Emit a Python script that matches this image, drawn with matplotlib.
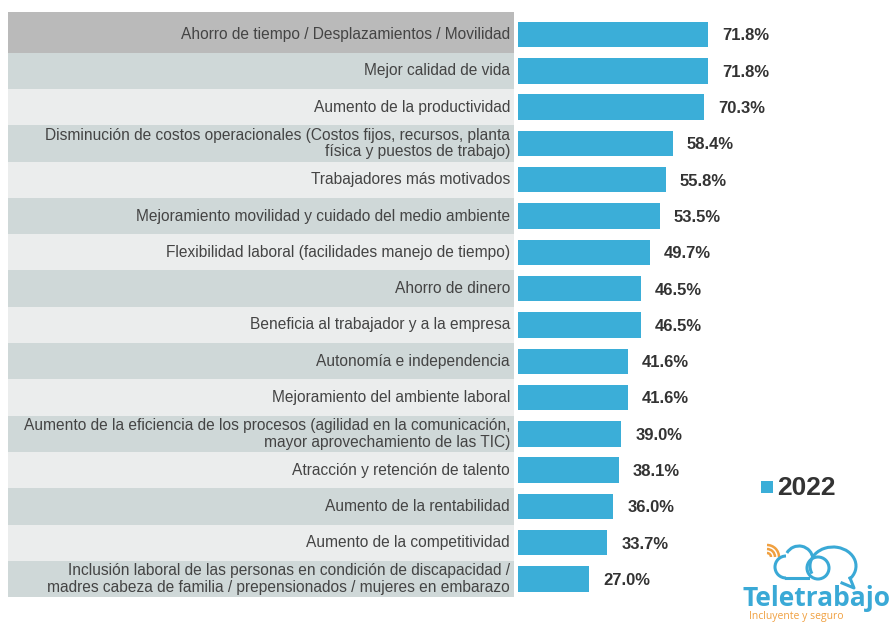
import matplotlib.pyplot as plt
from matplotlib.patches import Rectangle, Circle, Arc
import numpy as np

plt.rcParams['font.family'] = ['Liberation Sans', 'DejaVu Sans']

categories = [
    "Ahorro de tiempo / Desplazamientos / Movilidad",
    "Mejor calidad de vida",
    "Aumento de la productividad",
    "Disminución de costos operacionales (Costos fijos, recursos, planta\nfísica y puestos de trabajo)",
    "Trabajadores más motivados",
    "Mejoramiento movilidad y cuidado del medio ambiente",
    "Flexibilidad laboral (facilidades manejo de tiempo)",
    "Ahorro de dinero",
    "Beneficia al trabajador y a la empresa",
    "Autonomía e independencia",
    "Mejoramiento del ambiente laboral",
    "Aumento de la eficiencia de los procesos (agilidad en la comunicación,\nmayor aprovechamiento de las TIC)",
    "Atracción y retención de talento",
    "Aumento de la rentabilidad",
    "Aumento de la competitividad",
    "Inclusión laboral de las personas en condición de discapacidad /\nmadres cabeza de familia / prepensionados / mujeres en embarazo",
]
values_2022 = [71.8, 71.8, 70.3, 58.4, 55.8, 53.5, 49.7, 46.5, 46.5, 41.6, 41.6, 39.0, 38.1, 36.0, 33.7, 27.0]
series_name = "2022"

bar_color = '#3BAED8'
row_colors = ['#cfd8d8', '#ebeded']
text_color = '#444444'

W, H = 892, 622
fig = plt.figure(figsize=(W / 100, H / 100), dpi=100)

# bar axes: x=0 sits at pixel 518, ~2.646 px per percent
px_per_pct = 2.646
ax_left = 518
ax_right = W
ax_top, ax_bottom = 16.35, 597.2
ax = fig.add_axes([ax_left / W, (H - ax_bottom) / H, (ax_right - ax_left) / W, (ax_bottom - ax_top) / H])
ax.set_xlim(0, (ax_right - ax_left) / px_per_pct)
n = len(categories)
ax.set_ylim(n - 0.5, -0.5)
ax.axis('off')

y = np.arange(n)
ax.barh(y, values_2022, height=0.70, color=bar_color, zorder=3)

# label table with alternating row shading
trans = ax.get_yaxis_transform()
tbl_x0 = (8 - ax_left) / (ax_right - ax_left)
tbl_x1 = (514 - ax_left) / (ax_right - ax_left)
lab_x = (510 - ax_left) / (ax_right - ax_left)
for i, label in enumerate(categories):
    if i == 0:
        c = '#bababa'
    else:
        c = row_colors[(i - 1) % 2]
    y0 = i - 0.5 - (0.12 if i == 0 else 0)
    ax.add_patch(Rectangle((tbl_x0, y0), tbl_x1 - tbl_x0, i + 0.5 - y0, transform=trans,
                           facecolor=c, edgecolor='none', clip_on=False, zorder=1))
    ax.text(lab_x, i, label, transform=trans, ha='right', va='center',
            fontsize=11.2, color=text_color, linespacing=1.12, zorder=2)

for yi, v in zip(y, values_2022):
    ax.text(v + 5.3, yi + 0.04, f"{v:.1f}%", ha='left', va='center',
            fontsize=12, fontweight='bold', color='#333333')

# legend
fig.patches.append(Rectangle((761 / W, 1 - 493 / H), 12 / W, 12 / H, transform=fig.transFigure,
                             facecolor=bar_color, edgecolor='none'))
fig.text(777 / W, 1 - 488 / H, series_name, ha='left', va='center',
         fontsize=19, fontweight='bold', color='#333333')

# logo, drawn in pixel units (Y measured upward from the bottom edge)
lg = fig.add_axes([735 / W, 0, (W - 735) / W, (H - 535) / H])
lg.set_xlim(735, W)
lg.set_ylim(0, H - 535)
lg.axis('off')
def Y(py):
    return H - py
teal = '#3aa9d6'
orange = '#f0a040'
lw = 2.2
for r in (4, 8, 12):
    lg.add_patch(Arc((767, Y(557)), 2 * r, 2 * r, theta1=0, theta2=90, color=orange, lw=1.8))
lg.add_patch(Arc((786, Y(567)), 22, 22, theta1=90, theta2=270, color=teal, lw=lw))
lg.add_patch(Arc((799, Y(560)), 28, 28, theta1=5, theta2=150, color=teal, lw=lw))
lg.plot([786, 808], [Y(578), Y(578)], color=teal, lw=lw)
lg.add_patch(Arc((833, Y(566)), 46, 38, theta1=-40, theta2=200, color=teal, lw=lw))
lg.plot([850, 854, 842], [Y(578), Y(588), Y(583)], color=teal, lw=lw)
lg.add_patch(Circle((818, Y(568)), 11, facecolor='none', edgecolor=teal, lw=lw))
lg.text(743, Y(599), "Teletrabajo", ha='left', va='center', fontsize=19, fontweight='bold',
        color=teal, family=['Open Sans', 'DejaVu Sans'])
lg.text(749, Y(616), "Incluyente y seguro", ha='left', va='center', fontsize=7.5,
        color=orange, family=['Open Sans', 'DejaVu Sans'])

fig.savefig('out.png', dpi=100)
